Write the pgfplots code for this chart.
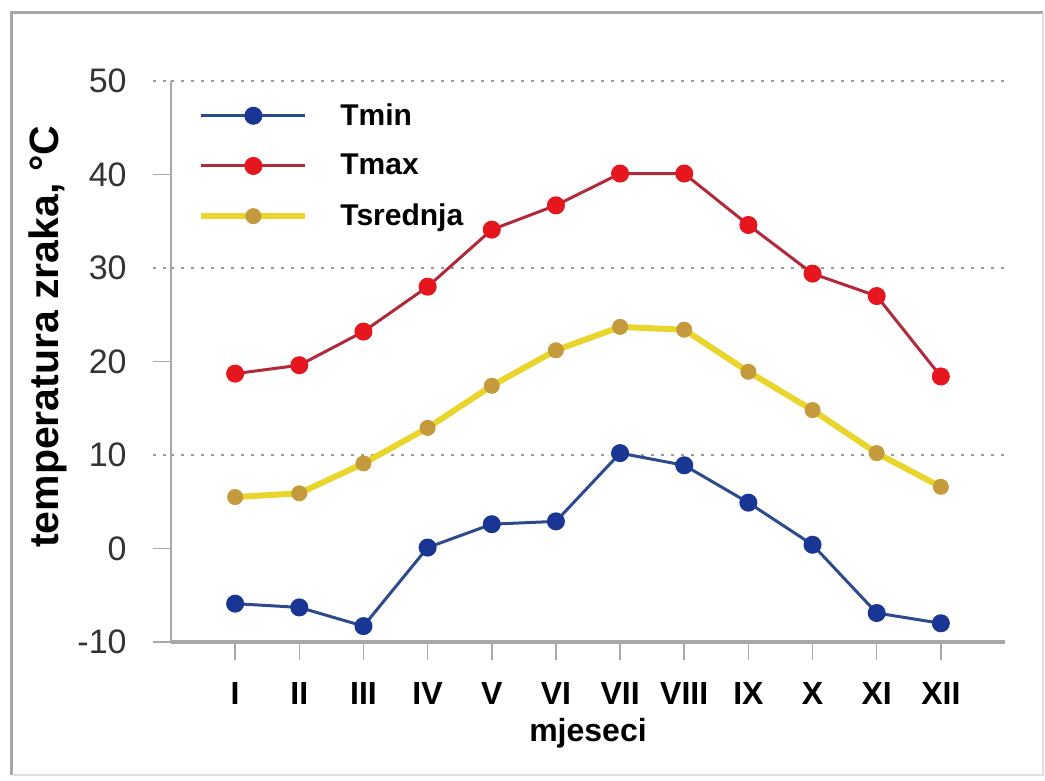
\documentclass[border=0pt]{standalone}
\usepackage{pgfplots}
\pgfplotsset{compat=1.18}
\usepackage{fontspec}
\setmainfont{Liberation Sans}

\definecolor{tminline}{HTML}{2D4A8C}
\definecolor{tminmark}{HTML}{1A3694}
\definecolor{tmaxline}{HTML}{B02A3A}
\definecolor{tmaxmark}{HTML}{E5161E}
\definecolor{tsrline}{HTML}{E9D52B}
\definecolor{tsrmark}{HTML}{C49A3C}
\definecolor{axisgray}{HTML}{A8A8A8}
\definecolor{gridgray}{HTML}{9A9A9A}
\definecolor{ticktext}{HTML}{333333}

\begin{document}
\begin{tikzpicture}
\begin{axis}[
    at={(0,0)}, anchor=south west,
    scale only axis, width=417pt, height=280.5pt,
    xmin=0, xmax=13, ymin=-10, ymax=50,
    axis lines*=left,
    x axis line style={draw=axisgray, line width=2pt},
    y axis line style={draw=axisgray, line width=1pt},
    xtick={1,...,12},
    xticklabels={I,II,III,IV,V,VI,VII,VIII,IX,X,XI,XII},
    ytick={-10,0,20,40},
    extra y ticks={10,30,50},
    extra y tick style={
      grid=major,
      major grid style={draw=gridgray, line width=1pt, dash pattern=on 1.5pt off 3.5pt},
      tick style={draw=gridgray, line width=1pt, dash pattern=on 1.5pt off 3.5pt}},
    tick align=outside, major tick length=9pt,
    tick style={draw=axisgray, line width=0.8pt},
    /pgf/number format/assume math mode=true,
    xticklabel style={font=\bfseries\fontsize{16}{16}\selectfont, inner sep=0pt, anchor=north, yshift=-11pt},
    yticklabel style={font=\fontsize{17}{17}\selectfont, text=ticktext, inner sep=0pt, anchor=east, xshift=-13pt},
    xlabel={mjeseci},
    xlabel style={font=\bfseries\fontsize{16}{16}\selectfont, at={(axis description cs:0.5,-0.162)}, anchor=center},
    ylabel={temperatura zraka, °C},
    ylabel style={font=\bfseries\fontsize{20.5}{20.5}\selectfont, at={(axis description cs:-0.1475,0.544)}, anchor=center},
    legend style={at={(axis description cs:0,1)}, anchor=north west,
      xshift=13.5pt, yshift=-11pt, draw=none, fill=none, inner sep=0pt,
      row sep=13pt, column sep=16pt,
      font=\bfseries\fontsize{15}{15}\selectfont,
      nodes={inner sep=0pt, anchor=west}},
    legend cell align=left,
    legend image code/.code={
      \draw[mark repeat=2, mark phase=2, #1] plot coordinates {(0pt,0pt) (26pt,0pt) (52pt,0pt)};},
    clip=false,
  ]

  % Tmin
  \addplot[color=tminline, line width=1.5pt, mark=*, mark size=3.75pt,
    mark options={draw=tminmark, fill=tminmark}] coordinates {
    (1,-5.9) (2,-6.3) (3,-8.3) (4,0.1) (5,2.6) (6,2.9)
    (7,10.2) (8,8.9) (9,4.9) (10,0.4) (11,-6.9) (12,-8.0)
  };

  % Tmax
  \addplot[color=tmaxline, line width=1.5pt, mark=*, mark size=3.75pt,
    mark options={draw=tmaxmark, fill=tmaxmark}] coordinates {
    (1,18.7) (2,19.6) (3,23.2) (4,28.0) (5,34.1) (6,36.7)
    (7,40.1) (8,40.1) (9,34.6) (10,29.4) (11,27.0) (12,18.4)
  };

  % Tsrednja
  \addplot[color=tsrline, line width=3pt, mark=*, mark size=3.75pt,
    mark options={draw=tsrmark, fill=tsrmark, line width=0.5pt}] coordinates {
    (1,5.5) (2,5.9) (3,9.1) (4,12.9) (5,17.4) (6,21.2)
    (7,23.7) (8,23.4) (9,18.9) (10,14.8) (11,10.2) (12,6.6)
  };

  \legend{Tmin, Tmax, Tsrednja}
\end{axis}

% frame round the picture
\draw[gray!70, line width=1.5pt] (-79.5pt,-66.5pt) -- (-79.5pt,314.5pt) -- (436pt,314.5pt);
\draw[gray!25, line width=1pt] (436pt,314.5pt) -- (436pt,-66.5pt) -- (-79.5pt,-66.5pt);
\path (-85.5pt,-69.5pt) rectangle (437pt,321pt);
\end{tikzpicture}
\end{document}
